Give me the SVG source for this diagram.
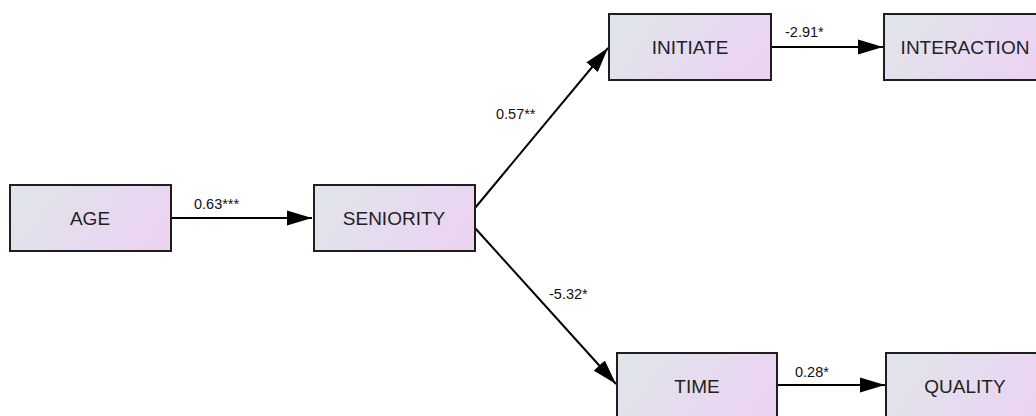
<svg xmlns="http://www.w3.org/2000/svg" width="1036" height="416" viewBox="0 0 1036 416">
<defs>
<linearGradient id="g" x1="0" y1="0" x2="1" y2="0.3">
<stop offset="0" stop-color="#e0e6ea"/>
<stop offset="1" stop-color="#ead4f2"/>
</linearGradient>
<marker id="ah" markerUnits="userSpaceOnUse" markerWidth="26" markerHeight="16" viewBox="0 0 26 16" refX="25" refY="8" orient="auto">
<path d="M0,0.5 L25,8 L0,15.5 Z" fill="#000"/>
</marker>
</defs>
<style>
.box{fill:url(#g);stroke:#1e1e1e;stroke-width:2}
.nt{font-family:"Liberation Sans",Arial,sans-serif;font-size:19px;fill:#222;text-anchor:middle;dominant-baseline:central}
.lt{font-family:"Liberation Sans",Arial,sans-serif;font-size:14.5px;fill:#111}
.e{stroke:#000;stroke-width:2;fill:none;marker-end:url(#ah)}
</style>
<rect width="1036" height="416" fill="#fff"/>
<g id="connectors">
<line class="e" x1="171" y1="218" x2="312" y2="218"/>
<line class="e" x1="475" y1="208" x2="608" y2="48"/>
<line class="e" x1="475" y1="228" x2="616" y2="384"/>
<line class="e" x1="771" y1="47" x2="883" y2="47"/>
<line class="e" x1="777" y1="385" x2="885" y2="385"/>
<text class="lt" x="194" y="209">0.63***</text>
<text class="lt" x="496" y="119">0.57**</text>
<text class="lt" x="549" y="299">-5.32*</text>
<text class="lt" x="785" y="37">-2.91*</text>
<text class="lt" x="795" y="377">0.28*</text>
</g>
<g id="node-age"><rect class="box" x="10" y="185" width="161" height="66"/><text class="nt" x="90" y="218">AGE</text></g>
<g id="node-seniority"><rect class="box" x="314" y="185" width="161" height="66"/><text class="nt" x="394" y="218">SENIORITY</text></g>
<g id="node-initiate"><rect class="box" x="609" y="14" width="162" height="66"/><text class="nt" x="690" y="47">INITIATE</text></g>
<g id="node-interaction"><rect class="box" x="884" y="14" width="162" height="66"/><text class="nt" x="965" y="47">INTERACTION</text></g>
<g id="node-time"><rect class="box" x="617" y="353" width="160" height="66"/><text class="nt" x="697" y="386">TIME</text></g>
<g id="node-quality"><rect class="box" x="886" y="353" width="162" height="66"/><text class="nt" x="965" y="386">QUALITY</text></g>
</svg>
